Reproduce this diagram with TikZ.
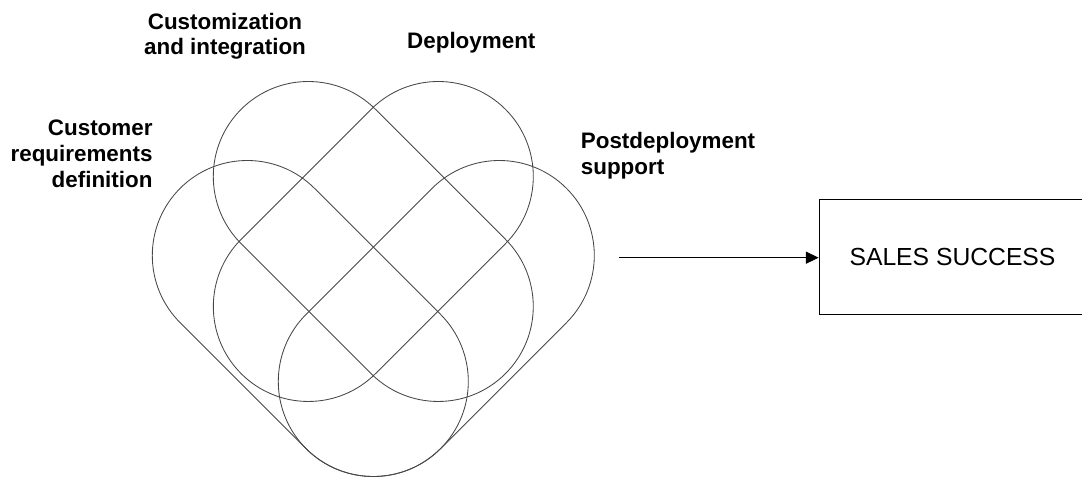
\documentclass[tikz,border=0pt]{standalone}
\usepackage{fontspec}
\setmainfont{Liberation Sans}
\usetikzlibrary{arrows.meta}
\tikzset{
  venn/.style={draw=black!72, line width=0.85pt},
  lbl/.style={inner sep=0pt, font=\fontsize{22.4}{25.8}\selectfont\bfseries},
  salesbox/.style={draw=black, line width=1.3pt, inner sep=0pt, minimum width=280.7pt, minimum height=115pt, font=\fontsize{24.7}{28}\selectfont},
  flow/.style={draw=black, line width=0.9pt, -{Triangle[length=12.7pt,width=12pt]}}
}
\begin{document}
\begin{tikzpicture}[x=1pt,y=1pt]
\useasboundingbox (0,0) rectangle (1082,-478);
% four stadium-shaped overlapping regions: x/y of first cap centre, rotation, straight length
\foreach \cx/\cy/\ang/\len in {308.3/-176.5/-45/183.8, 438.3/-176.5/-135/183.8, 247.3/-255.5/-45/178.2, 499.3/-255.5/-135/178.2}{
  \draw[venn, shift={(\cx,\cy)}, rotate=\ang]
    (0,-95) -- (\len,-95) arc[start angle=-90, end angle=90, radius=95]
    -- (0,95) arc[start angle=90, end angle=270, radius=95] -- cycle;
}
\node[lbl, align=center, anchor=base] (cust) at (225,-55) {Customization\\and integration};
\node[lbl, anchor=base] (depl) at (471.3,-48.3) {Deployment};
\node[lbl, align=right, anchor=base east] (req) at (152.7,-187.5) {Customer\\requirements\\definition};
\node[lbl, align=left, anchor=base west] (post) at (580.7,-174.5) {Postdeployment\\support};
\node[salesbox] (sales) at (959.65,-256.8) {\hspace*{-14.3pt}SALES SUCCESS};
\coordinate (start) at (619,-257.7);
\draw[flow] (start) -- (start -| sales.west);
\end{tikzpicture}
\end{document}
